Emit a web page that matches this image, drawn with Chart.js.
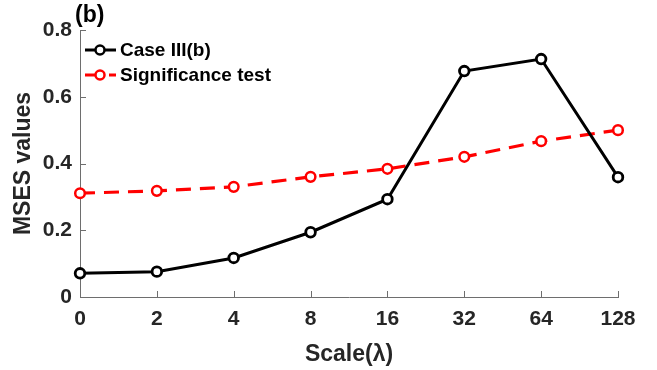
<!DOCTYPE html>
<html>
<head>
<meta charset="utf-8">
<script src="https://cdn.jsdelivr.net/npm/chart.js@4"></script>
<style>
  html, body { margin: 0; padding: 0; background: #fff; }
  #wrap { width: 657px; height: 370px; }
</style>
</head>
<body>
<div id="wrap"><canvas id="chart" width="657" height="370"></canvas></div>
<script>
const scaleLabels = ['0', '2', '4', '8', '16', '32', '64', '128'];
const caseValues = [0.071, 0.076, 0.117, 0.194, 0.293, 0.677, 0.713, 0.359];
const testValues = [0.311, 0.318, 0.330, 0.360, 0.384, 0.420, 0.467, 0.500];
const yTicks = [0, 0.2, 0.4, 0.6, 0.8];

const FONT = "'Liberation Sans', Arial, sans-serif";
const AXIS_COLOR = '#6e6e6e';
const TEXT_COLOR = '#262626';

// ticks pointing into the plot, plus panel tag and legend
const extras = {
  id: 'extras',
  afterDraw(chart) {
    const { ctx, chartArea, scales } = chart;
    ctx.save();
    ctx.strokeStyle = AXIS_COLOR;
    ctx.lineWidth = 1;
    ctx.beginPath();
    scales.x.ticks.forEach((t, i) => {
      const x = Math.round(scales.x.getPixelForTick(i)) + 0.5;
      ctx.moveTo(x, chartArea.bottom);
      ctx.lineTo(x, chartArea.bottom - 6);
    });
    scales.y.ticks.forEach((t, i) => {
      const y = Math.round(scales.y.getPixelForTick(i)) + 0.5;
      ctx.moveTo(chartArea.left, y);
      ctx.lineTo(chartArea.left + 6, y);
    });
    ctx.stroke();

    // panel tag
    ctx.fillStyle = '#000';
    ctx.font = 'bold 23px ' + FONT;
    ctx.textBaseline = 'middle';
    ctx.textAlign = 'left';
    ctx.fillText('(b)', 75, 16);

    // legend
    const items = chart.data.datasets;
    items.forEach((ds, i) => {
      const y = 50 + i * 25;
      ctx.strokeStyle = ds.borderColor;
      ctx.lineWidth = 3;
      ctx.setLineDash(ds.borderDash || []);
      ctx.beginPath();
      ctx.moveTo(85, y);
      ctx.lineTo(116, y);
      ctx.stroke();
      ctx.setLineDash([]);
      ctx.beginPath();
      ctx.arc(100, y, 4.5, 0, Math.PI * 2);
      ctx.fillStyle = '#fff';
      ctx.fill();
      ctx.lineWidth = 2.5;
      ctx.strokeStyle = ds.pointBorderColor;
      ctx.stroke();
      ctx.fillStyle = '#000';
      ctx.font = 'bold 19px ' + FONT;
      ctx.fillText(ds.label, 120, y + 1);
    });
    ctx.restore();
  }
};

new Chart(document.getElementById('chart'), {
  type: 'line',
  data: {
    labels: scaleLabels,
    datasets: [
      {
        label: 'Case III(b)',
        data: caseValues,
        borderColor: '#000',
        borderWidth: 3,
        pointBorderColor: '#000',
        pointBackgroundColor: '#fff',
        pointBorderWidth: 2.8,
        pointRadius: 4.8,
        tension: 0,
      },
      {
        label: 'Significance test',
        data: testValues,
        borderColor: '#ff0000',
        borderWidth: 3.2,
        borderDash: [15, 9],
        pointBorderColor: '#ff0000',
        pointBackgroundColor: '#fff',
        pointBorderWidth: 2.5,
        pointRadius: 4.8,
        tension: 0,
      },
    ],
  },
  options: {
    responsive: false,
    animation: false,
    layout: { padding: { top: 30, right: 39, left: 0, bottom: 0 } },
    plugins: {
      legend: { display: false },
      tooltip: { enabled: false },
    },
    scales: {
      x: {
        type: 'category',
        offset: false,
        grid: { display: false, drawTicks: false },
        border: { display: true, color: AXIS_COLOR, width: 1 },
        ticks: {
          color: TEXT_COLOR,
          font: { family: FONT, size: 21, weight: 'bold' },
          padding: 10,
          maxRotation: 0,
          autoSkip: false,
        },
        title: {
          display: true,
          text: 'Scale(λ)',
          color: TEXT_COLOR,
          font: { family: FONT, size: 23, weight: 'bold' },
          padding: { top: 2, bottom: 2 },
        },
        afterFit(scale) { scale.height = 73; },
      },
      y: {
        min: 0,
        max: 0.8,
        grid: { display: false, drawTicks: false },
        border: { display: true, color: AXIS_COLOR, width: 1 },
        afterBuildTicks(scale) {
          scale.ticks = yTicks.map((v) => ({ value: v }));
        },
        ticks: {
          color: TEXT_COLOR,
          font: { family: FONT, size: 21, weight: 'bold' },
          padding: 8,
          callback: (v) => (v === 0 ? '0' : v.toFixed(1)),
        },
        title: {
          display: true,
          text: 'MSES values',
          color: TEXT_COLOR,
          font: { family: FONT, size: 23, weight: 'bold' },
          padding: { top: 10, bottom: 0 },
        },
        afterFit(scale) { scale.width = 80; },
      },
    },
  },
  plugins: [extras],
});
</script>
</body>
</html>
